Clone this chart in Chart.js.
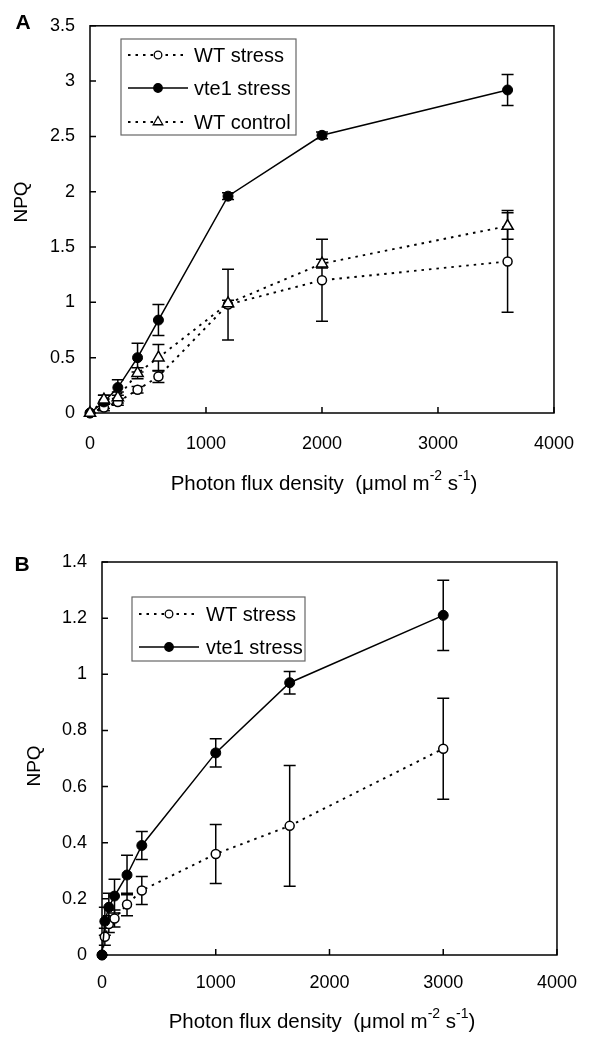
<!DOCTYPE html>
<html><head><meta charset="utf-8">
<script src="https://cdn.jsdelivr.net/npm/chart.js@4.4.1/dist/chart.umd.min.js"></script>
<style>
html,body{margin:0;padding:0;background:#fff;}
#wrapA{position:absolute;left:0;top:0;width:594px;height:500px;}
#wrapB{position:absolute;left:0;top:500px;width:594px;height:538px;}
canvas{display:block;}
</style></head><body>
<div id="wrapA"><canvas id="cA" width="594" height="500"></canvas></div>
<div id="wrapB"><canvas id="cB" width="594" height="538"></canvas></div>
<script>
// ---- Panel A data ----
const xA = [0, 120, 240, 410, 590, 1190, 2000, 3600];
const wtStressA = [0, 0.05, 0.10, 0.21, 0.33, 0.98, 1.20, 1.37];
const wtStressErrA = [0, 0.03, 0.03, 0.03, 0.055, 0.32, 0.37, 0.46];
const vte1StressA = [0, 0.10, 0.23, 0.50, 0.84, 1.96, 2.51, 2.92];
const vte1StressErrA = [0, 0.06, 0.07, 0.13, 0.14, 0.03, 0.03, 0.14];
const wtControlA = [0, 0.12, 0.14, 0.36, 0.50, 0.99, 1.35, 1.69];
const wtControlErrA = [0, 0.04, 0.05, 0.05, 0.12, 0.03, 0.04, 0.12];
const yTicksA = [0, 0.5, 1, 1.5, 2, 2.5, 3, 3.5];
const yTickLabelsA = ["0", "0.5", "1", "1.5", "2", "2.5", "3", "3.5"];

// ---- Panel B data ----
const xB = [0, 25, 60, 110, 220, 350, 1000, 1650, 3000];
const wtStressB = [0, 0.065, 0.11, 0.13, 0.18, 0.23, 0.36, 0.46, 0.735];
const wtStressErrB = [0, 0.03, 0.03, 0.03, 0.04, 0.05, 0.105, 0.215, 0.18];
const vte1StressB = [0, 0.12, 0.17, 0.21, 0.285, 0.39, 0.72, 0.97, 1.21];
const vte1StressErrB = [0, 0.05, 0.05, 0.06, 0.07, 0.05, 0.05, 0.04, 0.125];
const yTicksB = [0, 0.2, 0.4, 0.6, 0.8, 1, 1.2, 1.4];
const yTickLabelsB = ["0", "0.2", "0.4", "0.6", "0.8", "1", "1.2", "1.4"];

// ---- shared x axis ----
const xTicks = [0, 1000, 2000, 3000, 4000];
const xTickLabels = ["0", "1000", "2000", "3000", "4000"];

const seriesNames = ["WT stress", "vte1 stress", "WT control"];
const yTitle = "NPQ";

const FONT = "'Liberation Sans', Arial, Helvetica, sans-serif";

function pts(xs, ys){ return xs.map((x,i)=>({x:x, y:ys[i]})); }

const styleWT = {showLine:true, clip:false, borderColor:'#000', borderWidth:1.9, borderDash:[2.5,5], pointStyle:'circle', pointRadius:4.5, pointBackgroundColor:'#fff', pointBorderColor:'#000', pointBorderWidth:1.5, tension:0, fill:false};
const styleVte = {showLine:true, clip:false, borderColor:'#000', borderWidth:1.5, borderDash:[], pointStyle:'circle', pointRadius:5, pointBackgroundColor:'#000', pointBorderColor:'#000', pointBorderWidth:1, tension:0, fill:false};
const styleCtl = {showLine:true, clip:false, borderColor:'#000', borderWidth:1.9, borderDash:[2.5,5], pointStyle:'triangle', pointRadius:6.5, pointBackgroundColor:'#fff', pointBorderColor:'#000', pointBorderWidth:1.5, tension:0, fill:false};

const errPlugin = {
  id:'errbars',
  beforeDatasetsDraw(chart){
    const ctx=chart.ctx, ys=chart.scales.y, xs=chart.scales.x;
    ctx.save(); ctx.strokeStyle='#000'; ctx.lineWidth=1.5; ctx.setLineDash([]);
    chart.data.datasets.forEach(ds=>{
      if(!ds.errors) return;
      ds.data.forEach((p,i)=>{
        const e=ds.errors[i]; if(!e) return;
        const px=xs.getPixelForValue(p.x), t=ys.getPixelForValue(p.y+e), b=ys.getPixelForValue(p.y-e);
        ctx.beginPath(); ctx.moveTo(px,t); ctx.lineTo(px,b);
        ctx.moveTo(px-6,t); ctx.lineTo(px+6,t); ctx.moveTo(px-6,b); ctx.lineTo(px+6,b); ctx.stroke();
      });
    });
    ctx.restore();
  }
};

const framePlugin = {
  id:'frame',
  beforeDatasetsDraw(chart){
    const ctx=chart.ctx, a=chart.chartArea, x=chart.scales.x, y=chart.scales.y;
    ctx.save(); ctx.strokeStyle='#000'; ctx.lineWidth=1.5; ctx.setLineDash([]);
    ctx.strokeRect(a.left,a.top,a.right-a.left,a.bottom-a.top);
    ctx.beginPath();
    y.ticks.forEach(t=>{const py=y.getPixelForValue(t.value); ctx.moveTo(a.left,py); ctx.lineTo(a.left+6,py);});
    x.ticks.forEach(t=>{const px=x.getPixelForValue(t.value); ctx.moveTo(px,a.bottom); ctx.lineTo(px,a.bottom-6);});
    ctx.stroke(); ctx.restore();
  }
};

const legendPlugin = {
  id:'customLegend',
  afterDraw(chart, args, opts){
    if(!opts || !opts.box) return;
    const ctx=chart.ctx;
    ctx.save();
    ctx.fillStyle='#fff';
    ctx.fillRect(opts.box[0],opts.box[1],opts.box[2],opts.box[3]);
    ctx.strokeStyle='#666'; ctx.lineWidth=1.2; ctx.setLineDash([]);
    ctx.strokeRect(opts.box[0],opts.box[1],opts.box[2],opts.box[3]);
    chart.data.datasets.forEach((ds,i)=>{
      const yy=opts.rows[i];
      ctx.strokeStyle='#000'; ctx.lineWidth=ds.borderWidth; ctx.setLineDash(ds.borderDash||[]);
      ctx.beginPath(); ctx.moveTo(opts.lineX[0],yy); ctx.lineTo(opts.lineX[1],yy); ctx.stroke();
      ctx.setLineDash([]);
      ctx.fillStyle=ds.pointBackgroundColor; ctx.strokeStyle='#000'; ctx.lineWidth=1.3;
      Chart.helpers.drawPoint(ctx,{pointStyle:ds.pointStyle, radius: ds.pointRadius*0.85, rotation:0, borderWidth:1.3}, opts.markerX, yy);
      ctx.fillStyle='#000'; ctx.font='20px '+FONT; ctx.textAlign='left'; ctx.textBaseline='middle';
      ctx.fillText(ds.label, opts.textX, yy+1);
    });
    ctx.restore();
  }
};

const textPlugin = {
  id:'texts',
  afterDraw(chart, args, o){
    const ctx=chart.ctx;
    ctx.save(); ctx.fillStyle='#000';
    ctx.font='bold 21px '+FONT; ctx.textAlign='center'; ctx.textBaseline='middle';
    ctx.fillText(o.letter, o.letterPos[0], o.letterPos[1]);
    ctx.save(); ctx.translate(o.yTitlePos[0], o.yTitlePos[1]); ctx.rotate(-Math.PI/2);
    ctx.font='19px '+FONT; ctx.textAlign='center'; ctx.textBaseline='middle';
    ctx.fillText(yTitle,0,0); ctx.restore();
    const big='20.5px '+FONT, small='14px '+FONT;
    const parts=[["Photon flux density  (\u03bcmol m",0],["-2",1],[" s",0],["-1",1],[")",0]];
    let w=0; parts.forEach(p=>{ctx.font=p[1]?small:big; w+=ctx.measureText(p[0]).width;});
    let cx=o.xTitlePos[0]-w/2; const cy=o.xTitlePos[1];
    ctx.textAlign='left'; ctx.textBaseline='middle';
    parts.forEach(p=>{ctx.font=p[1]?small:big; ctx.fillText(p[0],cx,p[1]?cy-8:cy); cx+=ctx.measureText(p[0]).width;});
    ctx.restore();
  }
};

function makeChart(canvasId, datasets, yTicks, yTickLabels, yMax, area, cH, xPad, legendOpts, textOpts){
  return new Chart(document.getElementById(canvasId), {
    type:'scatter',
    data:{datasets:datasets},
    options:{
      responsive:false, animation:false, events:[],
      layout:{padding:{left:0, top:area.top, right:594-area.right, bottom:0}},
      plugins:{legend:{display:false}, tooltip:{enabled:false}, customLegend:legendOpts, texts:textOpts},
      scales:{
        x:{type:'linear', min:0, max:4000,
           afterBuildTicks:s=>{s.ticks=xTicks.map(v=>({value:v}));},
           afterFit:s=>{s.height=cH-area.bottom;},
           grid:{display:false, drawTicks:false}, border:{display:false},
           ticks:{padding:xPad, color:'#000', font:{family:FONT, size:18}, maxRotation:0, callback:(v,i)=>xTickLabels[i]}},
        y:{type:'linear', min:0, max:yMax,
           afterBuildTicks:s=>{s.ticks=yTicks.map(v=>({value:v}));},
           afterFit:s=>{s.width=area.left;},
           grid:{display:false, drawTicks:false}, border:{display:false},
           ticks:{padding:15, color:'#000', font:{family:FONT, size:18}, callback:(v,i)=>yTickLabels[i]}}
      }
    },
    plugins:[framePlugin, errPlugin, legendPlugin, textPlugin]
  });
}

makeChart('cA', [
  Object.assign({label:seriesNames[0], order:2, data:pts(xA,wtStressA), errors:wtStressErrA}, styleWT),
  Object.assign({label:seriesNames[1], order:1, data:pts(xA,vte1StressA), errors:vte1StressErrA}, styleVte),
  Object.assign({label:seriesNames[2], order:0, data:pts(xA,wtControlA), errors:wtControlErrA}, styleCtl)
], yTicksA, yTickLabelsA, 3.5, {left:90, top:18, right:556, bottom:413}, 500, 20,
  {box:[121,39,175,96], rows:[55,88,122], lineX:[128,188], markerX:158, textX:194},
  {letter:'A', letterPos:[23,23], yTitlePos:[22,202], xTitlePos:[324,484]});

makeChart('cB', [
  Object.assign({label:seriesNames[0], order:1, data:pts(xB,wtStressB), errors:wtStressErrB}, styleWT),
  Object.assign({label:seriesNames[1], order:0, data:pts(xB,vte1StressB), errors:vte1StressErrB}, styleVte)
], yTicksB, yTickLabelsB, 1.4, {left:102, top:62, right:565, bottom:455}, 538, 17,
  {box:[132,97,173,64], rows:[114,147], lineX:[139,199], markerX:169, textX:206},
  {letter:'B', letterPos:[22,65], yTitlePos:[35,266], xTitlePos:[322,522]});
</script>
</body></html>
